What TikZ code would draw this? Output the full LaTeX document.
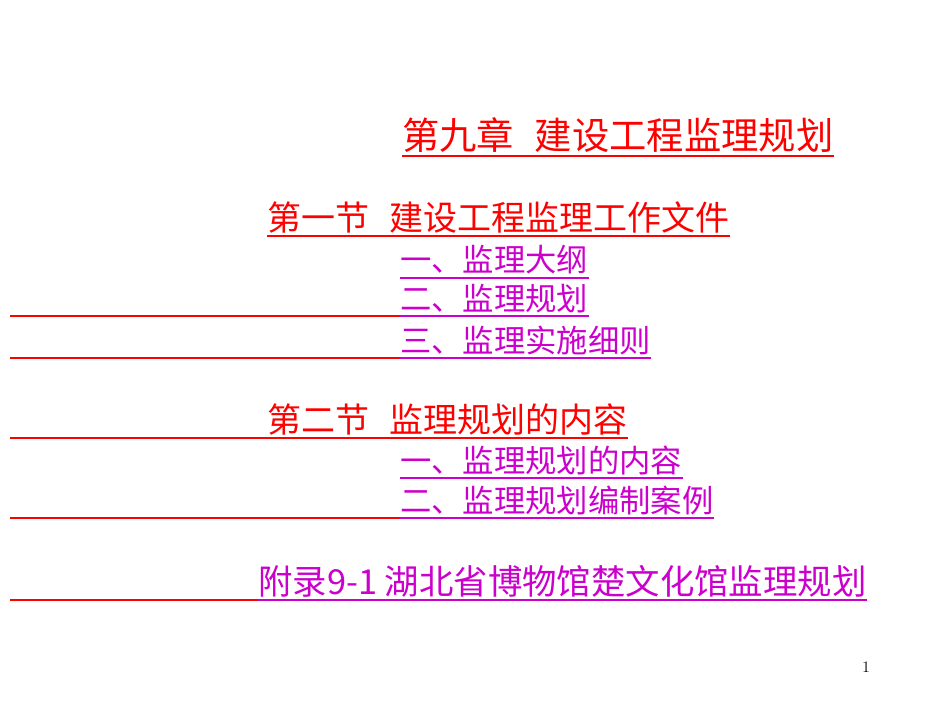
\documentclass[tikz,border=0pt]{standalone}
\usepackage{fontspec}
\newfontfamily\cjk{Noto Sans CJK SC}
\definecolor{hong}{RGB}{255,0,0}
\definecolor{zi}{RGB}{204,0,204}
\tikzset{
hang/.style={anchor=base west,inner sep=0pt,font=\cjk\fontsize{25.5}{25.5}\selectfont},
zhang/.style={hang,text=hong},
xiang/.style={hang,text=zi,font=\cjk\fontsize{23.5}{23.5}\selectfont},
xian/.style={draw=hong,line width=1pt},
dixian/.style={line width=1pt}}

\begin{document}
\begin{tikzpicture}[x=0.75pt,y=-0.75pt]
\useasboundingbox (0,0) rectangle (950,713);

\node[zhang,font=\cjk\fontsize{28}{28}\selectfont] (t0) at (402,150) {第九章\hspace{0.55em}建设工程监理规划};
\node[zhang] (t1) at (267,230) {第一节\hspace{0.6em}建设工程监理工作文件};
\node[xiang] (a1) at (400,272) {一、监理大纲};
\node[xiang] (a2) at (400,310) {二、监理规划};
\node[xiang] (a3) at (400,352) {三、监理实施细则};
\node[zhang] (t2) at (267,432) {第二节\hspace{0.6em}监理规划的内容};
\node[xiang] (b1) at (400,472) {一、监理规划的内容};
\node[xiang] (b2) at (400,512) {二、监理规划编制案例};
\node[xiang,font=\cjk\fontsize{25.8}{25.8}\selectfont] (f1) at (258,594) {附录9-1 湖北省博物馆楚文化馆监理规划};
\node[anchor=base,inner sep=0pt,font=\large] (ye) at (866,672) {1};

% underlines
\foreach \n in {t0,t1,t2}
  \draw[dixian,hong] ([yshift=-4.5pt]\n.base west) -- ([yshift=-4.5pt]\n.base east);
\foreach \n in {a1,a2,a3,b1,b2,f1}
  \draw[dixian,zi] ([yshift=-4.5pt]\n.base west) -- ([yshift=-4.5pt]\n.base east);

% left rules
\coordinate (l1) at (10,0);
\foreach \n in {a2,a3,t2,b2,f1}
  \draw[xian] ([yshift=-4.5pt]\n.base west) -- ([yshift=-4.5pt]\n.base west -| l1);

\end{tikzpicture}
\end{document}
